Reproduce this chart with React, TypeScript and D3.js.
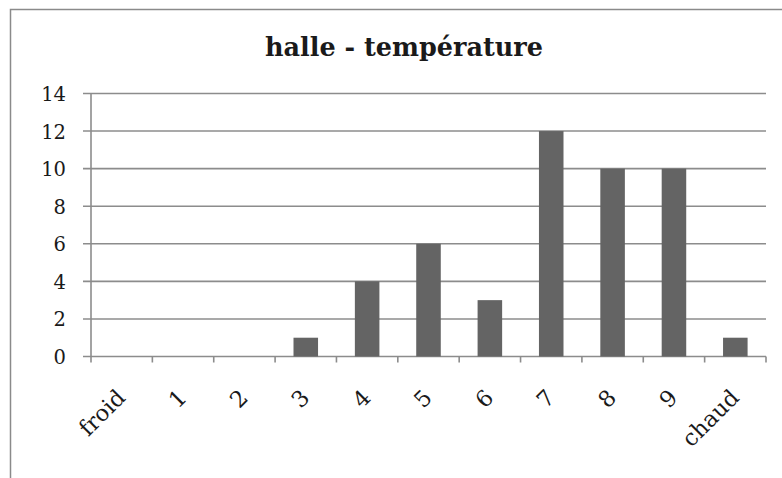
import React from "react";
import * as d3 from "d3";

const categories = ["froid", "1", "2", "3", "4", "5", "6", "7", "8", "9", "chaud"];
const values = [0, 0, 0, 1, 4, 6, 3, 12, 10, 10, 1];
const yTicks = [0, 2, 4, 6, 8, 10, 12, 14];
const title = "halle - température";

const W = 782;
const H = 478;
const FONT = "'DejaVu Serif', 'Liberation Serif', serif";

export default function App() {
  const x = d3
    .scaleBand<string>()
    .domain(categories)
    .range([91, 766])
    .paddingInner(0.6)
    .paddingOuter(0.3);
  const y = d3.scaleLinear().domain([0, 14]).range([356.5, 93.5]);
  const step = x.step();
  const x0 = 91;
  const gridColor = "#8c8c8c";

  return (
    <svg
      width={W}
      height={H}
      style={{ position: "absolute", left: 0, top: 0, background: "#fff" }}
    >
      <rect x={10.5} y={9.5} width={900} height={600} fill="#fff" stroke="#8a8a8a" strokeWidth={1.5} />
      <text
        x={404}
        y={56}
        textAnchor="middle"
        fontFamily={FONT}
        fontWeight="bold"
        fontSize={25.5}
        fill="#1a1a1a"
      >
        {title}
      </text>
      {yTicks.map((t) => (
        <g key={t}>
          <line x1={83} x2={766} y1={y(t)} y2={y(t)} stroke={gridColor} strokeWidth={1.6} />
          <text
            x={66}
            y={y(t) + 1}
            textAnchor="end"
            dominantBaseline="central"
            fontFamily={FONT}
            fontSize={19.5}
            fill="#1a1a1a"
          >
            {t}
          </text>
        </g>
      ))}
      <line x1={x0} x2={x0} y1={y(14)} y2={y(0) + 6} stroke={gridColor} strokeWidth={1.6} />
      {categories.map((c, i) => (
        <line
          key={"t" + c}
          x1={x0 + (i + 1) * step}
          x2={x0 + (i + 1) * step}
          y1={y(0)}
          y2={y(0) + 6}
          stroke={gridColor}
          strokeWidth={1.6}
        />
      ))}
      {categories.map((c, i) => (
        <rect
          key={"b" + c}
          x={x(c)!}
          y={y(values[i])}
          width={x.bandwidth()}
          height={y(0) - y(values[i])}
          fill="#646464"
        />
      ))}
      {categories.map((c) => {
        const cx = x(c)! + x.bandwidth() / 2 + 5;
        const cy = 399;
        return (
          <text
            key={"l" + c}
            x={cx}
            y={cy}
            textAnchor="end"
            transform={`rotate(-45 ${cx} ${cy})`}
            fontFamily={FONT}
            fontSize={22.5}
            fill="#1a1a1a"
          >
            {c}
          </text>
        );
      })}
    </svg>
  );
}
